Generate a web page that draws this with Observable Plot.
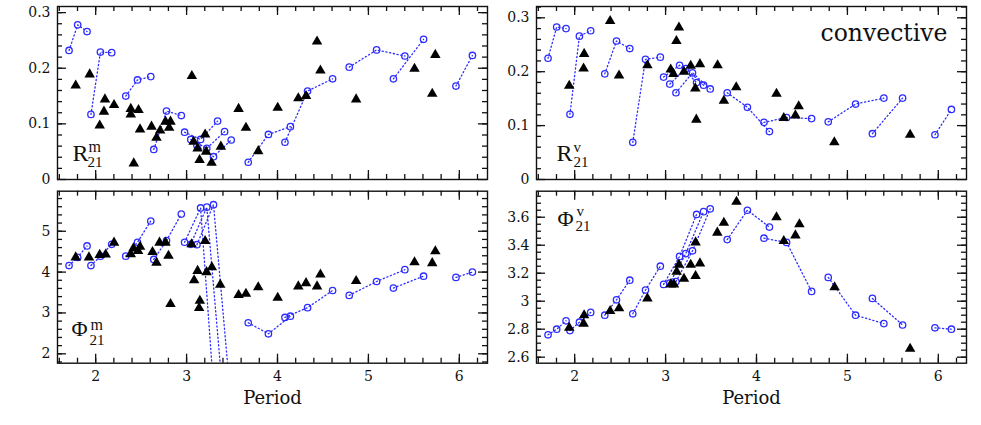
<!DOCTYPE html>
<html><head><meta charset="utf-8">
<script src="https://cdn.jsdelivr.net/npm/d3@7"></script>
<script src="https://cdn.jsdelivr.net/npm/@observablehq/plot@0.6"></script>
<style>
body{margin:0;background:#fff;}
#chart{position:relative;width:981px;height:425px;overflow:hidden;background:#fff;}
</style></head><body><div id="chart"></div>
<script>
// ---- model sequences (blue open circles, dotted lines) ----
const modelGroup = ["A","A","A","B","B","B","C","C","C","D","D","D","S1","S1","S1","S2","S2","S2","S3","S3","S3","E","E","E","F","F","F","G","G","G","H","H","I","I"];
const modelPeriod = [1.707,1.802,1.905, 1.948,2.052,2.176, 2.331,2.460,2.606, 2.639,2.779,2.942, 2.978,3.154,3.341, 3.046,3.222,3.418, 3.114,3.296,3.491, 3.678,3.900,4.142, 4.082,4.331,4.606, 4.789,5.090,5.401, 5.275,5.607, 5.963,6.144];
const modelR21m = [0.232,0.278,0.266, 0.117,0.229,0.228, 0.150,0.179,0.185, 0.054,0.123,0.115, 0.085,0.072,0.105, 0.072,0.056,0.086, 0.061,0.041,0.071, 0.031,0.081,0.095, 0.067,0.159,0.181, 0.202,0.233,0.222, 0.181,0.252, 0.168,0.223];
const modelR21v = [0.225,0.283,0.280, 0.121,0.266,0.276, 0.196,0.257,0.243, 0.069,0.223,0.227, 0.190,0.212,0.180, 0.177,0.206,0.175, 0.161,0.198,0.168, 0.161,0.134,0.089, 0.106,0.115,0.113, 0.107,0.140,0.151, 0.085,0.151, 0.083,0.130];
const modelPhi21m = [4.16,4.36,4.64, 4.16,4.39,4.68, 4.39,4.73,5.25, 4.31,4.77,5.42, 4.73,5.57,-0.2, 4.68,5.59,0.5, 4.67,5.65,0.75, 2.76,2.49,2.92, 2.89,3.13,3.55, 3.43,3.77,4.06, 3.61,3.90, 3.87,4.00];
const modelPhi21v = [2.76,2.80,2.86, 2.79,2.85,2.92, 2.90,3.01,3.15, 2.91,3.08,3.25, 3.12,3.32,3.62, 3.13,3.34,3.64, 3.14,3.36,3.66, 3.44,3.65,3.53, 3.45,3.42,3.07, 3.17,2.90,2.84, 3.02,2.83, 2.81,2.80];

// ---- observed stars (black triangles) ----
const obsPeriodR21m = [1.780,1.934,2.044,2.091,2.102,2.202,2.386,2.386,2.419,2.471,2.488,2.614,2.669,2.709,2.768,2.808,2.823,3.058,3.077,3.121,3.143,3.204,3.215,3.275,3.377,3.572,3.653,3.788,4.002,4.229,4.314,4.435,4.472,4.865,5.507,5.702,5.736];
const obsR21m = [0.169,0.189,0.097,0.122,0.144,0.134,0.127,0.117,0.029,0.125,0.090,0.095,0.075,0.088,0.104,0.093,0.104,0.186,0.068,0.056,0.035,0.081,0.050,0.030,0.059,0.127,0.093,0.051,0.129,0.146,0.150,0.248,0.196,0.144,0.199,0.154,0.224];
const obsPeriodPhi21m = [1.780,1.926,2.044,2.110,2.202,2.386,2.415,2.466,2.488,2.625,2.669,2.702,2.768,2.801,2.823,3.055,3.083,3.121,3.146,3.138,3.204,3.220,3.278,3.370,3.572,3.653,3.788,4.002,4.229,4.314,4.435,4.472,4.865,5.507,5.702,5.736];
const obsPhi21m = [4.36,4.36,4.42,4.43,4.72,4.44,4.58,4.52,4.62,4.49,4.23,4.72,4.72,4.40,3.22,4.68,3.80,4.03,3.30,3.12,4.76,4.00,4.12,3.69,3.44,3.47,3.63,3.37,3.65,3.73,3.65,3.94,3.78,4.24,4.22,4.51];
const obsPeriodR21v = [1.940,2.104,2.098,2.390,2.488,2.800,3.056,3.086,3.147,3.119,3.202,3.276,3.327,3.338,3.378,3.572,3.641,3.777,4.220,4.300,4.428,4.464,4.856,5.690];
const obsR21v = [0.174,0.233,0.206,0.294,0.193,0.212,0.204,0.196,0.282,0.257,0.200,0.211,0.169,0.111,0.214,0.212,0.146,0.171,0.159,0.114,0.119,0.136,0.069,0.083];
const obsPeriodPhi21v = [1.940,2.098,2.104,2.390,2.488,2.800,3.056,3.092,3.202,3.122,3.147,3.276,3.378,3.330,3.330,3.569,3.641,3.780,4.220,4.300,4.428,4.472,4.859,5.690];
const obsPhi21v = [2.81,2.84,2.90,2.93,2.95,3.02,3.12,3.12,3.16,3.21,3.26,3.26,3.27,3.18,3.42,3.49,3.56,3.71,3.60,3.43,3.47,3.55,3.10,2.66];

// ---- axes ----
const xDomain = [1.58, 6.31];
const xTickLabels = [2, 3, 4, 5, 6];
const rTickLabels = [0, 0.1, 0.2, 0.3];
const phiMTickLabels = [2, 3, 4, 5];
const phiVTickLabels = [2.6, 2.8, 3, 3.2, 3.4, 3.6];

function steps(a, b, step) {
  const out = []; const n = Math.round((b - a) / step);
  for (let i = 0; i <= n; i++) out.push(+(a + i * step).toFixed(4));
  return out;
}
const xMinor = steps(1.6, 6.2, 0.2);

const FONT = "DejaVu Serif";
const SYMFONT = "Liberation Serif";
const BLUE = "#2c2cff";
const INK = "#111";
const TICK = "#111";

function sym(items) {
  return items.map(t => Plot.text([t.s], {
    text: d => d, frameAnchor: t.anchor, dx: t.dx, dy: t.dy, fontSize: t.size,
    fontFamily: t.font || SYMFONT, textAnchor: t.ta || "start", lineAnchor: "bottom", fill: INK
  }));
}

// inward tick marks on all four frame sides; lengths given in pixels, converted to data units
function inwardTicks(o, yMinor, fw, fh) {
  const [x0, x1] = xDomain, [y0, y1] = o.yDomain;
  const px = (x1 - x0) / fw, py = (y1 - y0) / fh;
  const st = {stroke: TICK, strokeWidth: 1.3};
  const out = [];
  for (const [ticks, len] of [[xTickLabels, 9], [xMinor, 5]]) {
    out.push(Plot.ruleX(ticks, {x: d => d, y1: y0, y2: y0 + len * py, ...st}));
    out.push(Plot.ruleX(ticks, {x: d => d, y1: y1, y2: y1 - len * py, ...st}));
  }
  for (const [ticks, len] of [[o.yMajor, 9], [yMinor, 5]]) {
    out.push(Plot.ruleY(ticks, {y: d => d, x1: x0, x2: x0 + len * px, ...st}));
    out.push(Plot.ruleY(ticks, {y: d => d, x1: x1, x2: x1 - len * px, ...st}));
  }
  return out;
}

function panel(o) {
  const models = modelPeriod.map((p, i) => ({p, v: o.model[i], g: modelGroup[i]}));
  const obs = o.obsX.map((p, i) => ({p, v: o.obsY[i]}));
  const yMinor = steps(o.yMinor[0], o.yMinor[1], o.yMinor[2]).filter(v => v > o.yDomain[0] && v < o.yDomain[1]);
  const fw = o.width - o.m[0] - o.m[1], fh = o.height - o.m[2] - o.m[3];
  const marks = [
    Plot.frame({stroke: INK, strokeWidth: 1.4, fill: "none"}),
    ...inwardTicks(o, yMinor, fw, fh),
    Plot.axisY({anchor: "left", ticks: o.yMajor, tickSize: 0, tickPadding: 7, tickFormat: d => String(d), label: null, fontSize: 14, fill: INK}),
    Plot.dot(models, {x: "p", y: "v", r: 3.2, stroke: BLUE, strokeWidth: 1.3, fill: "none", clip: true}),
    Plot.line(models, {x: "p", y: "v", z: "g", stroke: BLUE, strokeWidth: 1.3, strokeDasharray: "1.2,2.6", clip: true}),
    Plot.dot(obs, {x: "p", y: "v", symbol: "triangle", r: 3.9, fill: "black", stroke: null}),
    ...sym(o.labels)
  ];
  if (o.xLabels) {
    marks.push(Plot.axisX({anchor: "bottom", ticks: xTickLabels, tickSize: 0, tickPadding: 8, tickFormat: d => String(d), label: null, fontSize: 14, fill: INK}));
    marks.push(Plot.text(["Period"], {text: d => d, frameAnchor: "bottom", dy: 40.3, lineAnchor: "bottom", fontSize: 18, fontFamily: FONT, fill: INK}));
  }
  const chart = Plot.plot({
    width: o.width, height: o.height,
    marginLeft: o.m[0], marginRight: o.m[1], marginTop: o.m[2], marginBottom: o.m[3],
    style: {fontFamily: FONT, fontSize: "14px", background: "transparent", color: INK, overflow: "visible"},
    x: o.xLabels ? {domain: xDomain} : {domain: xDomain, axis: null},
    y: {domain: o.yDomain},
    marks
  });
  chart.style.position = "absolute";
  chart.style.left = o.left + "px";
  chart.style.top = o.top + "px";
  document.getElementById("chart").appendChild(chart);
}

panel({
  left: 0, top: 0, width: 490, height: 192, m: [57, 3, 6, 13],
  yDomain: [0, 0.311], yMajor: rTickLabels, yMinor: [0, 0.3, 0.02],
  model: modelR21m, obsX: obsPeriodR21m, obsY: obsR21m, xLabels: false,
  labels: [
    {s: "R", anchor: "bottom-left", dx: 15, dy: -19, size: 24},
    {s: "m", anchor: "bottom-left", dx: 31, dy: -28, size: 16},
    {s: "21", anchor: "bottom-left", dx: 30, dy: -13, size: 15}
  ]
});
panel({
  left: 490, top: 0, width: 491, height: 192, m: [46, 15, 6, 13],
  yDomain: [0, 0.321], yMajor: rTickLabels, yMinor: [0, 0.32, 0.02],
  model: modelR21v, obsX: obsPeriodR21v, obsY: obsR21v, xLabels: false,
  labels: [
    {s: "R", anchor: "bottom-left", dx: 20, dy: -18.3, size: 24},
    {s: "v", anchor: "bottom-left", dx: 37, dy: -28, size: 15},
    {s: "21", anchor: "bottom-left", dx: 37, dy: -12.3, size: 15},
    {s: "convective", anchor: "top-right", ta: "end", dx: -19, dy: 34, size: 23.5, font: FONT}
  ]
});
panel({
  left: 0, top: 185, width: 490, height: 240, m: [57, 3, 5.7, 62.3],
  yDomain: [1.77, 5.98], yMajor: phiMTickLabels, yMinor: [1.8, 5.8, 0.2],
  model: modelPhi21m, obsX: obsPeriodPhi21m, obsY: obsPhi21m, xLabels: true,
  labels: [
    {s: "Φ", anchor: "bottom-left", dx: 14, dy: -27.7, size: 22},
    {s: "m", anchor: "bottom-left", dx: 33, dy: -33, size: 16},
    {s: "21", anchor: "bottom-left", dx: 32, dy: -18, size: 15}
  ]
});
panel({
  left: 490, top: 185, width: 491, height: 240, m: [46, 15, 5.7, 62.3],
  yDomain: [2.557, 3.786], yMajor: phiVTickLabels, yMinor: [2.6, 3.75, 0.05],
  model: modelPhi21v, obsX: obsPeriodPhi21v, obsY: obsPhi21v, xLabels: true,
  labels: [
    {s: "Φ", anchor: "top-left", dx: 21, dy: 34.3, size: 22},
    {s: "v", anchor: "top-left", dx: 40, dy: 25, size: 15},
    {s: "21", anchor: "top-left", dx: 39, dy: 40, size: 15}
  ]
});
</script></body></html>
